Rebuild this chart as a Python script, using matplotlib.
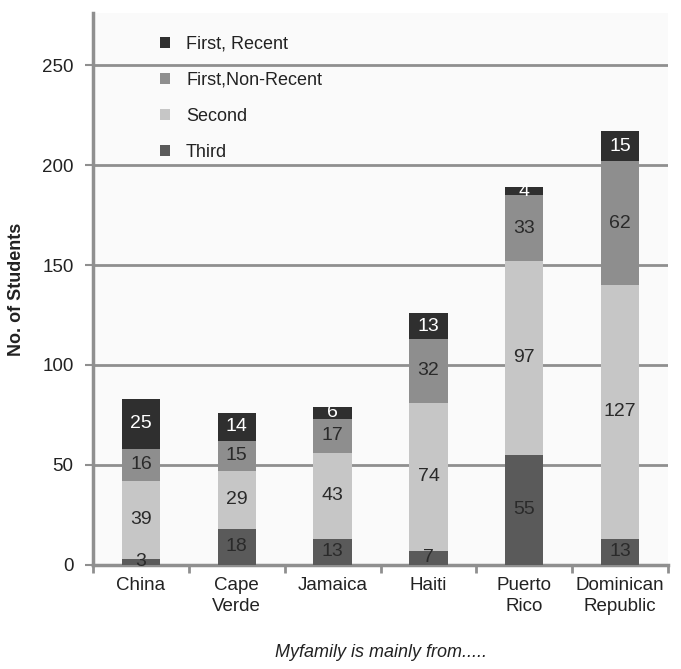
import matplotlib
matplotlib.use("Agg")
import matplotlib.pyplot as plt
import numpy as np

plt.rcParams['font.family'] = ['Liberation Sans', 'DejaVu Sans']

countries = ['China', 'Cape\nVerde', 'Jamaica', 'Haiti', 'Puerto\nRico', 'Dominican\nRepublic']
third = [3, 18, 13, 7, 55, 13]
second = [39, 29, 43, 74, 97, 127]
first_nonrecent = [16, 15, 17, 32, 33, 62]
first_recent = [25, 14, 6, 13, 4, 15]

series = [
    ('Third', third, '#5a5a5a', '#2a2a2a'),
    ('Second', second, '#c6c6c6', '#2a2a2a'),
    ('First,Non-Recent', first_nonrecent, '#8e8e8e', '#2a2a2a'),
    ('First, Recent', first_recent, '#2f2f2f', 'white'),
]

fig = plt.figure(figsize=(6.81, 6.69), dpi=100)
ax = fig.add_axes([0.1366, 0.1555, 0.8444, 0.825])
ax.set_facecolor('#fafafa')

x = np.arange(len(countries))
bottom = np.zeros(len(countries))
bars = {}
for name, vals, color, tcolor in series:
    vals = np.array(vals)
    b = ax.bar(x, vals, 0.4, bottom=bottom, color=color, label=name, zorder=3)
    bars[name] = b
    for xi, v, bt in zip(x, vals, bottom):
        ax.text(xi, bt + v / 2, str(v), ha='center', va='center',
                fontsize=14, color=tcolor, zorder=4)
    bottom += vals

ax.set_xlim(-0.5, len(countries) - 0.5)
ax.set_ylim(0, 276)
ax.set_yticks([0, 50, 100, 150, 200, 250])
ax.yaxis.grid(True, color='#8f8f8f', linewidth=2, zorder=0)
ax.set_axisbelow(True)

ax.set_xticks(x)
ax.set_xticklabels(countries, fontsize=13.5, color='#222222', linespacing=1.25)
ax.set_xticks(np.arange(len(countries) + 1) - 0.5, minor=True)
ax.tick_params(axis='x', which='major', length=0, pad=9)
ax.tick_params(axis='x', which='minor', length=6, width=2, color='#8f8f8f')
ax.tick_params(axis='y', length=6, width=1.5, color='#8f8f8f', labelsize=13.5,
               labelcolor='#222222', pad=8)

for s in ['top', 'right']:
    ax.spines[s].set_visible(False)
for s in ['left', 'bottom']:
    ax.spines[s].set_color('#8f8f8f')
    ax.spines[s].set_linewidth(2.5)

ax.set_ylabel('No. of Students', fontsize=13, fontweight='bold', labelpad=12,
              color='#222222')
ax.set_xlabel('Myfamily is mainly from.....', fontsize=13, style='italic',
              labelpad=21, color='#222222')

handles = [bars['First, Recent'], bars['First,Non-Recent'], bars['Second'], bars['Third']]
labels = ['First, Recent', 'First,Non-Recent', 'Second', 'Third']
leg = ax.legend(handles, labels, loc='upper left', bbox_to_anchor=(0.088, 0.988),
                frameon=False, fontsize=13, handlelength=0.55, handleheight=0.55,
                handletextpad=0.9, labelspacing=1.05)
for t in leg.get_texts():
    t.set_color('#222222')

plt.savefig('out.png', dpi=100)
plt.close()
